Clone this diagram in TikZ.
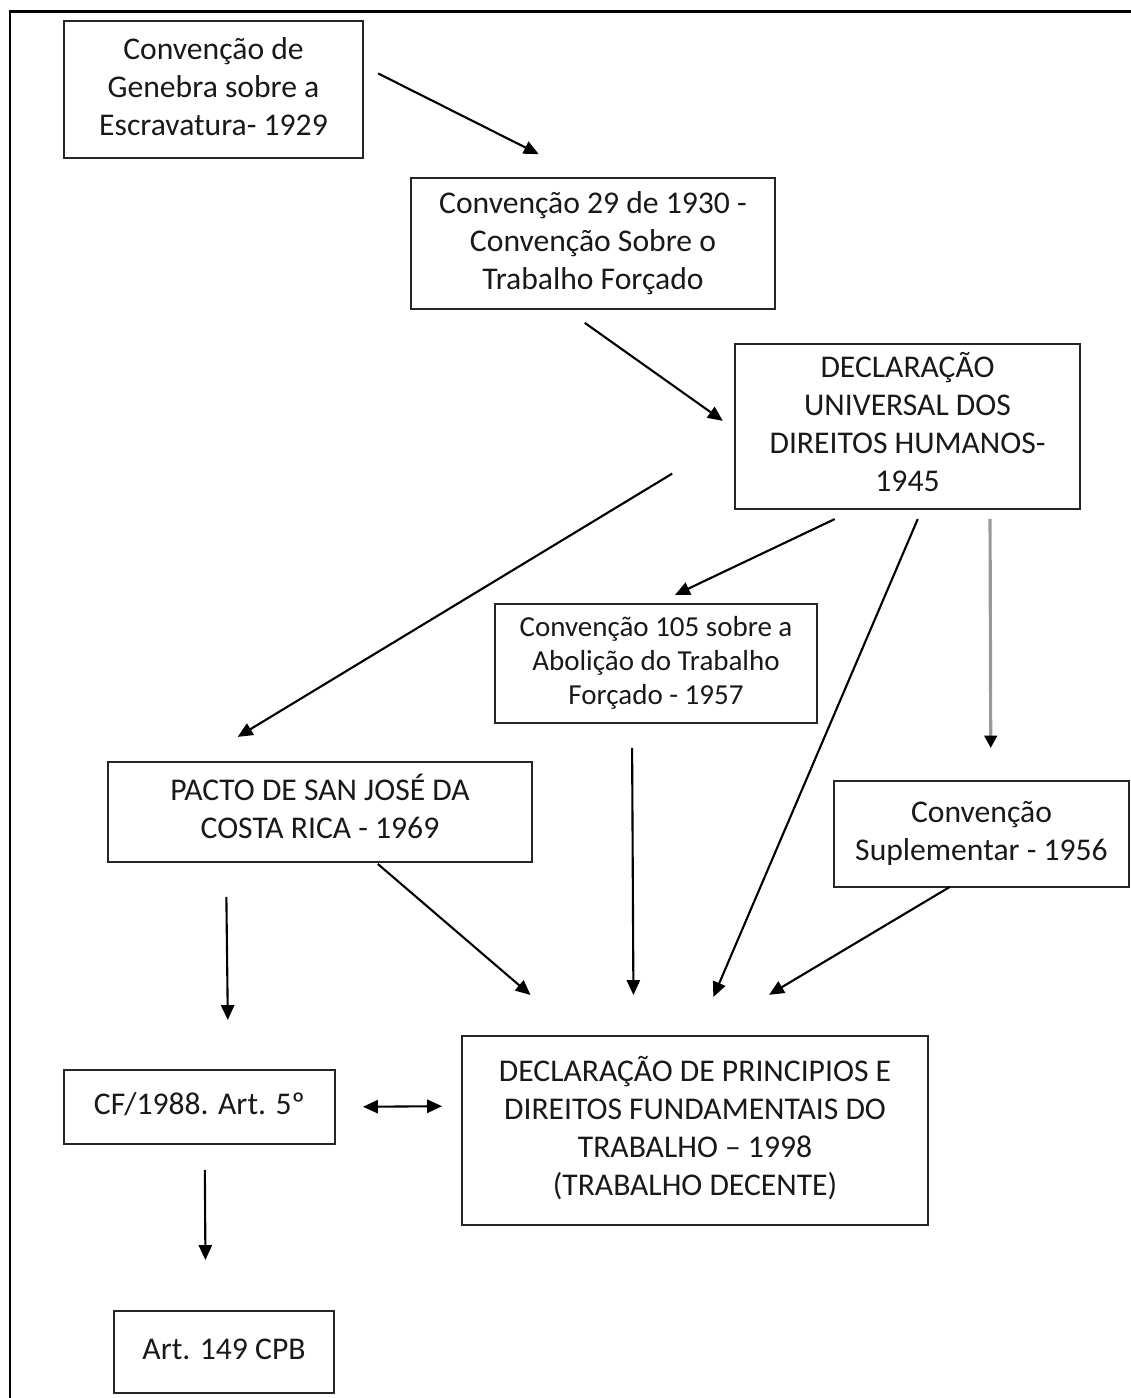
\documentclass[tikz,border=0pt]{standalone}
\usepackage{fontspec}
\setmainfont{Carlito}
\usetikzlibrary{shapes,decorations,arrows,calc,arrows.meta,fit,positioning}
\tikzset{
    -{Triangle[length=8.5pt,width=7.5pt]},
    box/.style ={rectangle, draw=black!85, line width=1.3pt, inner sep=0pt, outer sep=0pt,
                 text=black!90, font=\fontsize{18}{21.6}\selectfont},
    small/.style = {font=\fontsize{16.5}{19.3}\selectfont},
    grey/.style = {draw=black!40, line width=1.8pt, -{Triangle[length=7pt,width=7pt,color=black,fill=black]}}
}

\begin{document}
\begin{tikzpicture}[x=0.02cm,y=-0.02cm,line width=1.2pt]
    \useasboundingbox (0,0) rectangle (1131,1398);
    \draw[-, line width=1.7pt] (10,1398) |- (1131,12);

    \node[box, minimum width=5.98cm, minimum height=2.74cm] (gen) at (213.5,89.5) {\begin{tabular}{c}Convenção de\\Genebra sobre a\\Escravatura- 1929\end{tabular}};
    \node[box, minimum width=7.28cm, minimum height=2.62cm] (c29) at (593,243.5) {\begin{tabular}{c}Convenção 29 de 1930 -\\Convenção Sobre o\\Trabalho Forçado\end{tabular}};
    \node[box, minimum width=6.9cm, minimum height=3.3cm] (dudh) at (907.5,426.5) {\begin{tabular}{c}DECLARAÇÃO\\UNIVERSAL DOS\\DIREITOS HUMANOS-\\1945\end{tabular}};
    \node[box, small, minimum width=6.44cm, minimum height=2.38cm] (c105) at (656,663.5) {\begin{tabular}{c}Convenção 105 sobre a\\Abolição do Trabalho\\Forçado - 1957\end{tabular}};
    \node[box, minimum width=8.48cm, minimum height=2.0cm] (pacto) at (320,812) {\begin{tabular}{c}PACTO DE SAN JOSÉ DA\\COSTA RICA - 1969\end{tabular}};
    \node[box, minimum width=5.9cm, minimum height=2.12cm] (supl) at (981.5,834) {\begin{tabular}{c}Convenção\\Suplementar - 1956\end{tabular}};
    \node[box, minimum width=5.42cm, minimum height=1.48cm] (cf) at (199.5,1107) {\begin{tabular}{c}CF/1988. Art. 5º\end{tabular}};
    \node[box, minimum width=9.32cm, minimum height=3.78cm] (dpf) at (695,1130.5) {\begin{tabular}{c}DECLARAÇÃO DE PRINCIPIOS E\\DIREITOS FUNDAMENTAIS DO\\TRABALHO – 1998\\(TRABALHO DECENTE)\end{tabular}};
    \node[box, minimum width=4.4cm, minimum height=1.64cm] (art) at (224,1352) {\begin{tabular}{c}Art. 149 CPB\end{tabular}};

    \path (gen.9.2) edge[shorten <=0.34cm, shorten >=1.06cm] (c29.96.6);
    \path (c29.247.4) edge[shorten <=0.48cm, shorten >=0.3cm] (dudh.181.7);
    \path (dudh.183.3) edge[shorten <=1.47cm, shorten >=0.97cm] (pacto.158.9);
    \path (dudh.238.6) edge[shorten <=0.47cm, shorten >=0.42cm] (c105.90);
    \path (dudh.280.8) edge[shorten <=0.22cm, shorten >=0.85cm] (dpf.89.3);
    \path (dudh.315) edge[grey, shorten <=0.2cm, shorten >=0.66cm] (supl.80.9);
    \path (pacto.208.5) edge[shorten <=0.7cm, shorten >=1.0cm] (cf.52.4);
    \path (pacto.318.1) edge[shorten <=0.06cm, shorten >=1.26cm] (dpf.141.2);
    \path (c105.248.9) edge[shorten <=0.5cm, shorten >=0.82cm] (dpf.123.3);
    \path (supl.239.3) edge[shorten >=1.61cm] (dpf.87.6);
    \path (cf.east) edge[{Triangle[length=8.5pt,width=7.5pt]}-{Triangle[length=8.5pt,width=7.5pt]}, shorten <=0.56cm, shorten >=0.4cm] (dpf.174.2);
    \path (cf.278.5) edge[shorten <=0.52cm, shorten >=1.02cm] (art.114.9);
\end{tikzpicture}
\end{document}
